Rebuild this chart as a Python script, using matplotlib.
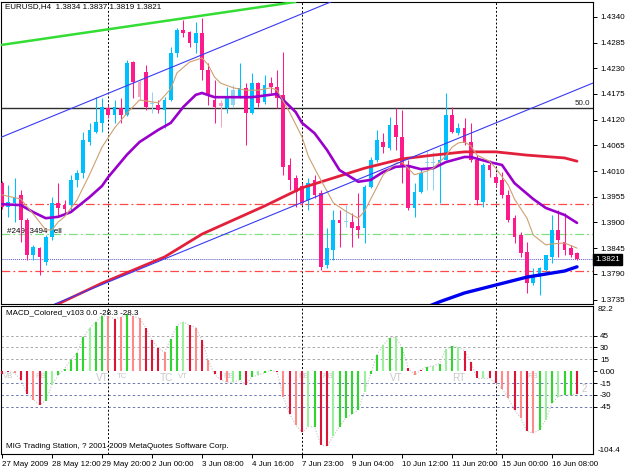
import matplotlib
matplotlib.use("Agg")
import matplotlib.pyplot as plt
from matplotlib import font_manager
from matplotlib.transforms import blended_transform_factory

# EURUSD H4 bars (bar 0 = 27 May 2009)
opens = [1.3984, 1.3933, 1.3942, 1.3959, 1.3905, 1.3830, 1.3845, 1.3815, 1.3869, 1.3942,
         1.3937, 1.3937, 1.3991, 1.4006, 1.4072, 1.4094, 1.4113, 1.4145, 1.4130, 1.4145,
         1.4130, 1.4243, 1.4201, 1.4222, 1.4153, 1.4151, 1.4141, 1.4162, 1.4263, 1.4312,
         1.4308, 1.4284, 1.4305, 1.4226, 1.4162, 1.4156, 1.4145, 1.4151, 1.4168, 1.4188,
         1.4134, 1.4198, 1.4158, 1.4198, 1.4190, 1.4173, 1.4023, 1.3995, 1.3978, 1.3948,
         1.3991, 1.3963, 1.3809, 1.3841, 1.3905, 1.3901, 1.3901, 1.3892, 1.3888, 1.3976,
         1.4034, 1.4072, 1.4059, 1.4109, 1.4083, 1.4023, 1.3931, 1.3965, 1.4027, 1.4027,
         1.4027, 1.4034, 1.4130, 1.4091, 1.4102, 1.4072, 1.4034, 1.3944, 1.4023, 1.3997,
         1.3991, 1.3959, 1.3909, 1.3873, 1.3837, 1.3770, 1.3783, 1.3798, 1.3826, 1.3884,
         1.3858, 1.3845, 1.3834]
highs = [1.3989, 1.3980, 1.3995, 1.3969, 1.3909, 1.3852, 1.3847, 1.3873, 1.3954, 1.3984,
         1.3948, 1.4002, 1.4012, 1.4094, 1.4113, 1.4168, 1.4166, 1.4151, 1.4162, 1.4166,
         1.4248, 1.4245, 1.4205, 1.4237, 1.4179, 1.4162, 1.4168, 1.4275, 1.4316, 1.4333,
         1.4310, 1.4329, 1.4337, 1.4241, 1.4205, 1.4162, 1.4190, 1.4194, 1.4241, 1.4198,
         1.4220, 1.4201, 1.4216, 1.4211, 1.4226, 1.4265, 1.4038, 1.4002, 1.3984, 1.3995,
         1.4002, 1.3969, 1.3888, 1.3927, 1.3927, 1.3937, 1.3920, 1.3963, 1.3980, 1.4040,
         1.4098, 1.4091, 1.4126, 1.4145, 1.4141, 1.4034, 1.3984, 1.4016, 1.4055, 1.4051,
         1.4061, 1.4177, 1.4147, 1.4113, 1.4123, 1.4113, 1.4044, 1.4027, 1.4034, 1.4006,
         1.4008, 1.3969, 1.3916, 1.3880, 1.3858, 1.3802, 1.3805, 1.3830, 1.3916, 1.3927,
         1.3920, 1.3852, 1.3837]
lows = [1.3929, 1.3912, 1.3901, 1.3858, 1.3820, 1.3820, 1.3788, 1.3809, 1.3862, 1.3912,
        1.3920, 1.3927, 1.3976, 1.3995, 1.4066, 1.4091, 1.4094, 1.4123, 1.4113, 1.4113,
        1.4128, 1.4166, 1.4162, 1.4141, 1.4134, 1.4134, 1.4102, 1.4160, 1.4254, 1.4297,
        1.4275, 1.4263, 1.4205, 1.4151, 1.4113, 1.4104, 1.4134, 1.4147, 1.4166, 1.4066,
        1.4132, 1.4147, 1.4154, 1.4177, 1.4145, 1.4002, 1.3969, 1.3933, 1.3937, 1.3927,
        1.3952, 1.3798, 1.3802, 1.3820, 1.3847, 1.3890, 1.3847, 1.3867, 1.3856, 1.3974,
        1.4029, 1.4049, 1.4055, 1.4055, 1.3984, 1.3927, 1.3912, 1.3963, 1.3969, 1.3969,
        1.3942, 1.4034, 1.4091, 1.4087, 1.4066, 1.4029, 1.3937, 1.3933, 1.3997, 1.3976,
        1.3952, 1.3901, 1.3856, 1.3826, 1.3749, 1.3766, 1.3745, 1.3792, 1.3813, 1.3826,
        1.3830, 1.3826, 1.3819]
closes = [1.3933, 1.3944, 1.3954, 1.3905, 1.3830, 1.3847, 1.3826, 1.3869, 1.3942, 1.3931,
          1.3929, 1.3991, 1.4006, 1.4076, 1.4098, 1.4115, 1.4147, 1.4130, 1.4147, 1.4130,
          1.4241, 1.4201, 1.4168, 1.4147, 1.4156, 1.4141, 1.4162, 1.4263, 1.4312, 1.4305,
          1.4284, 1.4305, 1.4226, 1.4173, 1.4147, 1.4149, 1.4168, 1.4183, 1.4188, 1.4134,
          1.4198, 1.4156, 1.4194, 1.4190, 1.4166, 1.4019, 1.3991, 1.3965, 1.3942, 1.3984,
          1.3959, 1.3805, 1.3845, 1.3905, 1.3899, 1.3902, 1.3888, 1.3884, 1.3976, 1.4034,
          1.4076, 1.4061, 1.4109, 1.4083, 1.4023, 1.3931, 1.3965, 1.4006, 1.4029, 1.4029,
          1.4034, 1.4130, 1.4094, 1.4102, 1.4070, 1.4034, 1.3948, 1.4023, 1.4012, 1.3984,
          1.3959, 1.3905, 1.3869, 1.3835, 1.3770, 1.3783, 1.3802, 1.3830, 1.3884, 1.3862,
          1.3841, 1.3830, 1.3821]
pale_bars = [22, 24, 35, 37, 55, 68, 69]

# moving averages as (bar, price) points
tan_ma = [(0, 1.3959), (3, 1.3950), (5, 1.3918), (7, 1.3884), (8, 1.3884), (9, 1.3901),
          (10, 1.3912), (12, 1.3948), (14, 1.4002), (16, 1.4061), (18, 1.4102), (20, 1.4134),
          (22, 1.4162), (24, 1.4158), (25, 1.4156), (27, 1.4186), (28, 1.4220), (30, 1.4243),
          (32, 1.4252), (33, 1.4237), (34, 1.4211), (35, 1.4198), (37, 1.4188), (39, 1.4183),
          (41, 1.4183), (43, 1.4188), (44, 1.4183), (46, 1.4136), (48, 1.4083), (49, 1.4042),
          (50, 1.4016), (51, 1.3991), (52, 1.3967), (53, 1.3942), (55, 1.3924), (57, 1.3909),
          (58, 1.3924), (60, 1.3976), (61, 1.4002), (63, 1.4027), (64, 1.4029), (66, 1.4002),
          (68, 1.4010), (69, 1.4016), (71, 1.4042), (72, 1.4061), (73, 1.4070), (74, 1.4072),
          (75, 1.4064), (76, 1.4044), (78, 1.4031), (79, 1.4016), (81, 1.3980), (82, 1.3950),
          (84, 1.3909), (85, 1.3873), (87, 1.3852), (88, 1.3854), (90, 1.3856), (92, 1.3845)]
purple_ma = [(0, 1.3939), (3, 1.3937), (5, 1.3922), (7, 1.3909), (9, 1.3912), (11, 1.3922),
             (14, 1.3954), (16, 1.3978), (17, 1.3997), (20, 1.4045), (22, 1.4072), (25, 1.4098),
             (27, 1.4113), (29, 1.4147), (31, 1.4173), (32, 1.4177), (34, 1.4168), (37, 1.4168),
             (40, 1.4168), (44, 1.4175), (45, 1.4162), (47, 1.4136), (48, 1.4113), (50, 1.4091),
             (52, 1.4055), (54, 1.4012), (57, 1.3987), (59, 1.3991), (61, 1.4008), (63, 1.4019),
             (65, 1.4021), (67, 1.4014), (69, 1.4016), (71, 1.4029), (74, 1.4040), (75, 1.4040),
             (78, 1.4029), (80, 1.4023), (82, 1.3984), (85, 1.3950), (87, 1.3931), (90, 1.3916),
             (92, 1.3899)]
red_ma = [(8, 1.3719), (10, 1.3732), (16, 1.3770), (21, 1.3798), (26, 1.3826), (32, 1.3875),
          (37, 1.3905), (42, 1.3935), (48, 1.3974), (53, 1.3995), (58, 1.4016), (64, 1.4036),
          (69, 1.4044), (74, 1.4051), (79, 1.4051), (84, 1.4044), (90, 1.4038), (92, 1.4031)]
blue_ma = [(68, 1.3719), (70, 1.3730), (74, 1.3749), (79, 1.3766), (84, 1.3783),
           (90, 1.3796), (92, 1.3805)]

# trend lines, two anchors each
green_trend = [(0, 1.4280), (46, 1.4370)]
channel_top = [(0, 1.4083), (51, 1.4363)]
channel_bottom = [(10, 1.3734), (94.5, 1.4198)]

fibo_level = 1.4145
order_open = 1.3875
order_sl = 1.3939
order_tp = 1.3797
bid = 1.3821
week_breaks = [17, 48, 79]

price_ticks = [1.4340, 1.4285, 1.4230, 1.4175, 1.4120, 1.4065, 1.4010,
               1.3955, 1.3900, 1.3845, 1.3790, 1.3735]
date_ticks = [0, 8, 16, 24, 32, 40, 48, 56, 64, 72, 80, 88]
date_labels = ["27 May 2009", "28 May 12:00", "29 May 20:00", "2 Jun 00:00",
               "3 Jun 08:00", "4 Jun 16:00", "7 Jun 23:00", "9 Jun 04:00",
               "10 Jun 12:00", "11 Jun 20:00", "15 Jun 00:00", "16 Jun 08:00"]

# MACD_Colored histogram, one value per bar, with its colour code
macd = [-3, -1, -2, -11, -29, -36, -42, -37.5, -17, -5,
        3, 14, 23, 43, 54, 62, 70, 69, 66, 68,
        72, 69, 67, 55, 39, 29, 24, 41, 57.5, 62,
        58, 55, 39, 14, -4, -11, -14, -14, -11, -17,
        -7, -5, -2, 1, -1, -32, -54, -67.5, -77, -70,
        -70, -92.5, -94.6, -82, -70, -59, -54, -49, -26, -3,
        21, 33, 42, 43, 30, 4, -5, 1.5, 5.4, 6.7,
        9.6, 27.5, 31.7, 30.4, 26, 11.7, -9, -9, -9, -15,
        -22, -34, -49, -59, -76, -78, -74, -61, -40, -32,
        -30, -30, -28.3]
macd_cols = ("rrprrprglg" "gggglggprp" "gpprrrpggl" "rprprrplgr"
             "glggrprprl" "grrlgggglg" "glglgrprgl" "glglrrrlrr"
             "pprprpglgl" "ggr")
macd_ticks = [45, 30, 15, 0, -15, -30, -45]
macd_tick_labels = ["45", "30", "15", "0.00", "-15", "-30", "-45"]
macd_top, macd_bottom = 82.2, -104.4
macd_marks = [("VB", 0.2, 7), ("RB", 5.4, 7), ("VT", 15.0, 9), ("TC", 18.4, 7),
              ("TC", 25.3, 9), ("VT", 28.2, 7), ("RB", 35.4, 7), ("RB", 47.4, 7),
              ("RB", 51.2, 7), ("VT", 62.1, 9), ("RT", 72.0, 9), ("RB", 84.0, 7)]

names = {f.name for f in font_manager.fontManager.ttflist}
fam = "Liberation Sans Narrow" if "Liberation Sans Narrow" in names else "Liberation Sans"
plt.rcParams["font.family"] = [fam, "DejaVu Sans"]
fs = 5.8

W, H = 625, 469
fig = plt.figure(figsize=(W / 100, H / 100), dpi=100)
fig.patch.set_facecolor("white")
ax = fig.add_axes([1 / W, 165 / H, 592 / W, 302 / H])
axm = fig.add_axes([1 / W, 15 / H, 592 / W, 148 / H])

xmin, xmax = -0.16, 94.56
n = len(opens)
bars = list(range(n))

# ---- main price panel ----
ax.set_xlim(xmin, xmax)
ax.set_ylim(1.37254, 1.43717)

for b in week_breaks:
    ax.axvline(b, color="black", lw=0.7, ls=(0, (2, 2)), zorder=1)

ax.axhline(fibo_level, color="#303030", lw=1.0, zorder=1)
ax.text(0.995, fibo_level + 0.0002, "50.0", transform=blended_transform_factory(ax.transAxes, ax.transData),
        ha="right", va="bottom", fontsize=fs, color="#202020")
ax.axhline(order_sl, color="#FF4A4A", lw=0.9, ls=(0, (7, 2.5, 1.5, 2.5)), zorder=1)
ax.axhline(order_tp, color="#FF4A4A", lw=0.9, ls=(0, (7, 2.5, 1.5, 2.5)), zorder=1)
ax.axhline(order_open, color="#7EE07E", lw=0.9, ls=(0, (7, 2.5, 1.5, 2.5)), zorder=1)
ax.axhline(bid, color="#5A5AC8", lw=0.7, ls=(0, (1, 1)), zorder=1)
ax.text(0.8, order_open + 0.0006, "#24913494 sell", fontsize=fs, color="black", va="center", zorder=1.5)

for i in bars:
    o, h, l, c = opens[i], highs[i], lows[i], closes[i]
    up = c >= o
    if i in pale_bars:
        col = "#8FD4F5" if up else "#F5A3C0"
    else:
        col = "#00BFFF" if up else "#FF1A8C"
    ax.vlines(i, l, h, color=col, lw=0.75, zorder=3)
    ax.bar(i, max(abs(c - o), 0.00006), bottom=min(o, c), width=0.62, color=col,
           linewidth=0, zorder=3)

for pts, col, lw in [(red_ma, "#E3203C", 2.0), (blue_ma, "#0000F0", 2.4),
                     (purple_ma, "#9A00CC", 1.9), (tan_ma, "#CFA070", 0.8)]:
    ax.plot([p[0] for p in pts], [p[1] for p in pts], color=col, lw=lw, zorder=4,
            solid_capstyle="round")

ax.axline(green_trend[0], green_trend[1], color="#33DD33", lw=1.8, zorder=4)
ax.axline(channel_top[0], channel_top[1], color="#3A3AF5", lw=0.8, zorder=4)
ax.axline(channel_bottom[0], channel_bottom[1], color="#3A3AF5", lw=0.8, zorder=4)

ax.set_xticks([])
ax.yaxis.tick_right()
ax.set_yticks(price_ticks)
ax.set_yticklabels([f"{t:.4f}" for t in price_ticks])
ax.tick_params(axis="y", length=3, width=0.7, pad=2, labelsize=fs, colors="black")
ax.text(1.004, bid, f"{bid:.4f}", transform=blended_transform_factory(ax.transAxes, ax.transData),
        ha="left", va="center", fontsize=fs, color="white",
        bbox=dict(boxstyle="square,pad=0.25", fc="black", ec="black"), clip_on=False)
for s in ax.spines.values():
    s.set_color("black")
    s.set_linewidth(0.8)
fig.text(5 / W, 1 - 7 / H, "EURUSD,H4  1.3834 1.3837 1.3819 1.3821", fontsize=fs,
         va="center", ha="left", color="black")

# ---- MACD panel ----
pal = {"g": "#2ED62E", "l": "#9CEF9C", "r": "#DC1438", "p": "#FF8A8A"}
axm.set_xlim(xmin, xmax)
axm.set_ylim(macd_bottom, macd_top)
for lv in [45, 30, 15]:
    axm.axhline(lv, color="#A8A8A8", lw=0.7, ls=(0, (2.5, 2.5)), zorder=1)
for lv in [-15, -30, -45]:
    axm.axhline(lv, color="#6B78B0", lw=0.7, ls=(0, (2.5, 2.5)), zorder=1)
for b in week_breaks:
    axm.axvline(b, color="black", lw=0.7, ls=(0, (2, 2)), zorder=1)

axm.vlines(bars, 0, macd, colors=[pal[c] for c in macd_cols], lw=1.5, zorder=3)
axm.plot(bars, macd, color="#C4C4C4", lw=0.8, ls=(0, (1, 1.5)), zorder=2)
for txt, b, size in macd_marks:
    axm.text(b, -2.5, txt, fontsize=size * 0.8, color="#C8C8C8", ha="left", va="top", zorder=2)
axm.text(92.8, -16.5, "2", fontsize=7, color="#C8C8C8", ha="left", va="top", zorder=2)

axm.yaxis.tick_right()
axm.set_yticks(macd_ticks)
axm.set_yticklabels(macd_tick_labels)
axm.tick_params(axis="y", length=3, width=0.7, pad=2, labelsize=fs)
axm.text(1.007, 1.0, f"{macd_top}", transform=axm.transAxes, ha="left", va="top", fontsize=fs)
axm.text(1.007, 0.0, f"{macd_bottom}", transform=axm.transAxes, ha="left", va="bottom", fontsize=fs)
axm.set_xticks(date_ticks)
axm.set_xticklabels(date_labels)
axm.tick_params(axis="x", length=3, width=0.7, pad=2, labelsize=fs)
for lbl in axm.get_xticklabels():
    lbl.set_horizontalalignment("left")
for s in axm.spines.values():
    s.set_color("black")
    s.set_linewidth(0.8)
axm.text(0.008, 0.975, "MACD_Colored_v103 0.0 -28.3 -28.3", transform=axm.transAxes,
         fontsize=fs, ha="left", va="top")
axm.text(0.008, 0.025, "MIG Trading Station, ? 2001-2009 MetaQuotes Software Corp.",
         transform=axm.transAxes, fontsize=fs, ha="left", va="bottom")

fig.savefig("out.png", dpi=100)
